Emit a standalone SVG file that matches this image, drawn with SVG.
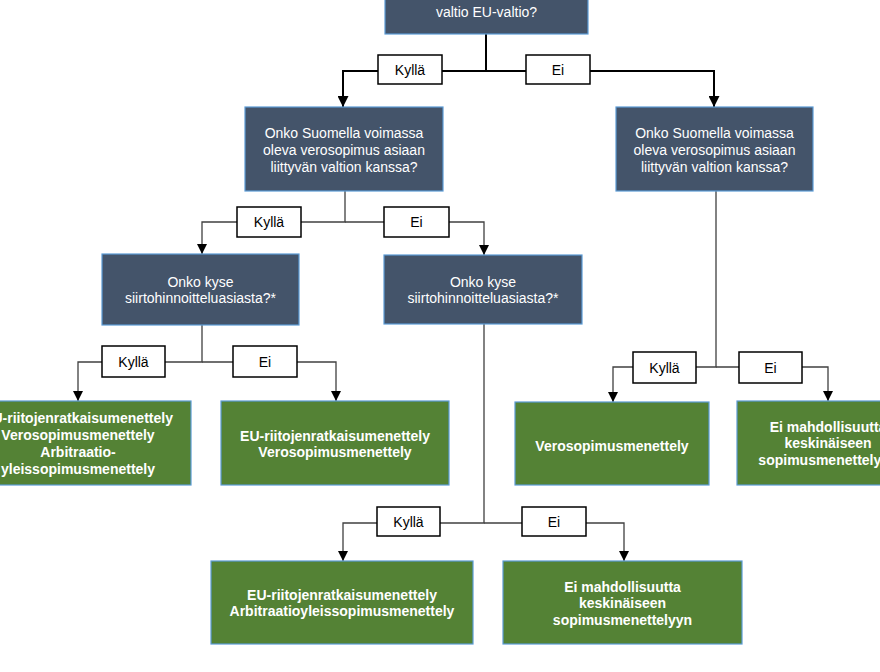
<svg xmlns="http://www.w3.org/2000/svg" width="880" height="672" viewBox="0 0 880 672">
<defs>
<style>
.q rect{fill:#44546A;stroke:#5B9BD5;stroke-width:1.2}
.q text{fill:#fff;font-family:"Liberation Sans",Arial,sans-serif;font-size:14px;text-anchor:middle}
.r rect{fill:#548235;stroke:#5B9BD5;stroke-width:1.2}
.r text{fill:#fff;font-family:"Liberation Sans",Arial,sans-serif;font-size:14px;font-weight:bold;text-anchor:middle}
.lbl rect{fill:#fff;stroke:#000;stroke-width:1.5}
.lbl text{fill:#000;font-family:"Liberation Sans",Arial,sans-serif;font-size:14px;text-anchor:middle}
.c1{fill:none;stroke:#000;stroke-width:2}
.c2{fill:none;stroke:#404040;stroke-width:1.3}
</style>
<marker id="ah" viewBox="0 0 10 10" refX="10" refY="5" markerWidth="11" markerHeight="11" markerUnits="userSpaceOnUse" orient="auto"><path d="M0,0 L10,5 L0,10 z" fill="#000"/></marker>
<marker id="ah2" viewBox="0 0 10 10" refX="10" refY="5" markerWidth="10" markerHeight="10" markerUnits="userSpaceOnUse" orient="auto"><path d="M0,0 L10,5 L0,10 z" fill="#000"/></marker>
</defs>
<rect width="880" height="672" fill="#fff"/>
<g id="connectors">
<path class="c1" d="M486,34 V71 H343 V107" marker-end="url(#ah)"/>
<path class="c1" d="M486,71 H714 V107" marker-end="url(#ah)"/>
<path class="c2" d="M345,191 V222 H202 V254" marker-end="url(#ah2)"/>
<path class="c2" d="M345,222 H484 V255" marker-end="url(#ah2)"/>
<path class="c2" d="M202,325 V362 H78 V401" marker-end="url(#ah2)"/>
<path class="c2" d="M202,362 H336 V401" marker-end="url(#ah2)"/>
<path class="c2" d="M716,191 V367 H613 V402" marker-end="url(#ah2)"/>
<path class="c2" d="M716,367 H828 V401" marker-end="url(#ah2)"/>
<path class="c2" d="M484,324 V523 H343 V561" marker-end="url(#ah2)"/>
<path class="c2" d="M484,523 H624 V561" marker-end="url(#ah2)"/>
<g class="lbl">
<rect x="378" y="55" width="64" height="29"/><text x="410" y="75">Kyllä</text>
<rect x="526" y="55" width="64" height="29"/><text x="558" y="75">Ei</text>
<rect x="237" y="207" width="64" height="30"/><text x="269" y="227">Kyllä</text>
<rect x="384" y="207" width="65" height="30"/><text x="416.5" y="227">Ei</text>
<rect x="102" y="346" width="63" height="31"/><text x="133.5" y="366.5">Kyllä</text>
<rect x="233" y="346" width="64" height="31"/><text x="265" y="366.5">Ei</text>
<rect x="633" y="352" width="63" height="31"/><text x="664.5" y="372.5">Kyllä</text>
<rect x="739" y="352" width="63" height="31"/><text x="770.5" y="372.5">Ei</text>
<rect x="377" y="507" width="63" height="29"/><text x="408.5" y="526.5">Kyllä</text>
<rect x="522" y="507" width="64" height="29"/><text x="554" y="526.5">Ei</text>
</g>
</g>
<g id="q-top" class="q"><rect x="385" y="-5" width="203" height="39"/><text x="486.5" y="17">valtio EU-valtio?</text></g>
<g id="q-left" class="q"><rect x="245" y="107" width="198" height="84"/><text x="344" y="138">Onko Suomella voimassa</text><text x="344" y="155">oleva verosopimus asiaan</text><text x="344" y="172">liittyvän valtion kanssa?</text></g>
<g id="q-right" class="q"><rect x="616" y="107" width="197" height="84"/><text x="714.5" y="138">Onko Suomella voimassa</text><text x="714.5" y="155">oleva verosopimus asiaan</text><text x="714.5" y="172">liittyvän valtion kanssa?</text></g>
<g id="q-siirto-left" class="q"><rect x="102" y="254" width="197" height="71"/><text x="200.5" y="287">Onko kyse</text><text x="200.5" y="303">siirtohinnoitteluasiasta?*</text></g>
<g id="q-siirto-mid" class="q"><rect x="384" y="255" width="198" height="69"/><text x="483" y="287">Onko kyse</text><text x="483" y="303">siirtohinnoitteluasiasta?*</text></g>
<g id="r-1" class="r"><rect x="-35" y="401" width="226" height="84"/><text x="78" y="423">EU-riitojenratkaisumenettely</text><text x="78" y="440">Verosopimusmenettely</text><text x="78" y="457">Arbitraatio-</text><text x="78" y="474">yleissopimusmenettely</text></g>
<g id="r-2" class="r"><rect x="221" y="401" width="228" height="84"/><text x="335" y="441">EU-riitojenratkaisumenettely</text><text x="335" y="457">Verosopimusmenettely</text></g>
<g id="r-3" class="r"><rect x="515" y="402" width="194" height="83"/><text x="612" y="451">Verosopimusmenettely</text></g>
<g id="r-4" class="r"><rect x="737" y="401" width="182" height="84"/><text x="828" y="432">Ei mahdollisuutta</text><text x="828" y="448">keskinäiseen</text><text x="828" y="465">sopimusmenettelyyn</text></g>
<g id="r-5" class="r"><rect x="211" y="561" width="262" height="83"/><text x="342" y="600">EU-riitojenratkaisumenettely</text><text x="342" y="616">Arbitraatioyleissopimusmenettely</text></g>
<g id="r-6" class="r"><rect x="503" y="561" width="239" height="83"/><text x="622.5" y="592">Ei mahdollisuutta</text><text x="622.5" y="608">keskinäiseen</text><text x="622.5" y="625">sopimusmenettelyyn</text></g>
</svg>
